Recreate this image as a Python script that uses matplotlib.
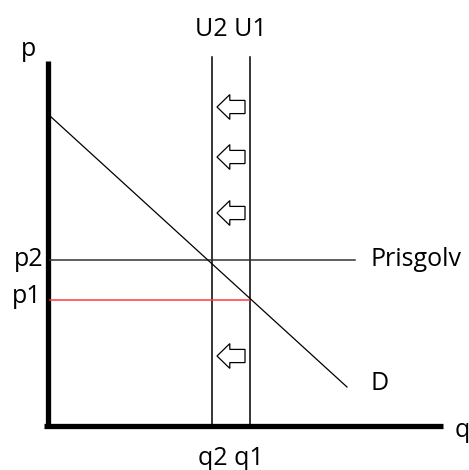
import matplotlib
matplotlib.use("Agg")
import matplotlib.pyplot as plt
from matplotlib.patches import FancyArrow

# price levels and quantities (arbitrary units)
p1 = 3.15
p2 = 4.15
q2 = 4.1
q1 = 5.05
demand_q = [0.05, 7.475]
demand_p = [7.75, 0.975]
floor_end = 7.675
arrow_y = [7.975, 6.725, 5.325, 1.75]

plt.rcParams['font.family'] = ['Open Sans', 'DejaVu Sans']

fig = plt.figure(figsize=(4.69, 4.70), dpi=100)
ax = fig.add_axes([0, 0, 1, 1])
ax.set_xlim(-1.2, 10.525)
ax.set_ylim(-1.1, 10.65)
ax.axis('off')

# axes drawn by hand, thick
ax.plot([0, 0], [-0.025, 9.125], color='black', lw=3.8, solid_capstyle='butt')
ax.plot([-0.1, 9.875], [0, 0], color='black', lw=3.8, solid_capstyle='butt')

# quota lines
for q in [q2, q1]:
    ax.plot([q, q], [0, 9.225], color='black', lw=1.1)

# price floor and p1
ax.plot([0.05, floor_end], [p2, p2], color='#333333', lw=1.1)
ax.plot([0.05, q1], [p1, p1], color='#ff3b3b', lw=1.1)

# demand
ax.plot(demand_q, demand_p, color='black', lw=0.9)

# hollow arrows pointing left
for y in arrow_y:
    ax.add_patch(FancyArrow(4.925, y, -0.7, 0, width=0.33, head_width=0.62,
                            head_length=0.32, length_includes_head=True,
                            fill=False, ec='black', lw=0.9))

fs = 18
ax.text((q1 + q2) / 2, 9.9, 'U2 U1', ha='center', va='center', fontsize=fs)
ax.text((q1 + q2) / 2, -0.82, 'q2 q1', ha='center', va='center', fontsize=fs)
ax.text(-0.48, 9.4, 'p', ha='center', va='center', fontsize=fs)
ax.text(10.35, -0.12, 'q', ha='center', va='center', fontsize=fs)
ax.text(-0.12, p2, 'p2', ha='right', va='center', fontsize=fs)
ax.text(-0.17, p1 + 0.08, 'p1', ha='right', va='center', fontsize=fs)
ax.text(8.05, p2, 'Prisgolv', ha='left', va='center', fontsize=fs)
ax.text(8.05, 1.05, 'D', ha='left', va='center', fontsize=fs)

fig.savefig('out.png', dpi=100)
